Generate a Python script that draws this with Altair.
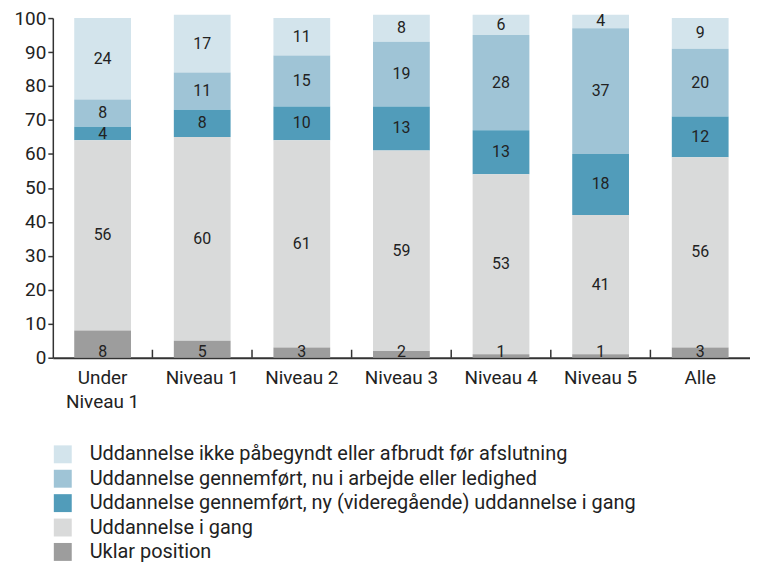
import altair as alt
import pandas as pd

categories = ["Under Niveau 1", "Niveau 1", "Niveau 2", "Niveau 3", "Niveau 4", "Niveau 5", "Alle"]
series = [
    "Uddannelse ikke påbegyndt eller afbrudt før afslutning",
    "Uddannelse gennemført, nu i arbejde eller ledighed",
    "Uddannelse gennemført, ny (videregående) uddannelse i gang",
    "Uddannelse i gang",
    "Uklar position",
]
ikke = [24, 17, 11, 8, 6, 4, 9]
nu = [8, 11, 15, 19, 28, 37, 20]
ny = [4, 8, 10, 13, 13, 18, 12]
igang = [56, 60, 61, 59, 53, 41, 56]
uklar = [8, 5, 3, 2, 1, 1, 3]
y_ticks = [0, 10, 20, 30, 40, 50, 60, 70, 80, 90, 100]
colors = ["#d3e4ec", "#9fc4d6", "#519cba", "#d9dada", "#9d9d9d"]

values_by_series = [ikke, nu, ny, igang, uklar]
rows = []
for s_i, (name, vals) in enumerate(zip(series, values_by_series)):
    for c, v in zip(categories, vals):
        rows.append({"category": c, "series": name, "value": v, "order": 4 - s_i})
df = pd.DataFrame(rows)
ticks_df = pd.DataFrame({"category": categories[1:]})

FONT = "Roboto"
H = 341
y_axis = alt.Axis(
    title=None, values=y_ticks, tickCount=11, grid=False, tickSize=5, labelOverlap=False,
    tickColor="#333333", domainColor="#333333", domainWidth=1.5, tickWidth=1.5,
    labelFontSize=19, labelColor="#222222", labelPadding=2, labelFont=FONT,
)
y_scale = alt.Scale(domain=[0, 100], nice=False)
x_axis = alt.Axis(
    title=None, labelAngle=0, ticks=False, domainColor="#333333", domainWidth=2,
    labelFontSize=19, labelColor="#222222", labelPadding=11, labelLineHeight=24,
    labelFont=FONT,
    labelExpr="datum.label == 'Under Niveau 1' ? ['Under', 'Niveau 1'] : datum.label",
)
x_scale = alt.Scale(paddingInner=0.43, paddingOuter=0.215)


def xe():
    return alt.X("category:N", sort=categories, scale=x_scale, axis=x_axis)


base = alt.Chart(df).transform_stack(
    stack="value", as_=["y0", "y1"], groupby=["category"], sort=[alt.SortField("order")]
).transform_calculate(
    mid="datum.series == 'Uklar position' ? 1.8 : (datum.y0 + datum.y1) / 2"
)

bars = base.mark_bar(opacity=1).encode(
    x=xe(),
    y=alt.Y("y0:Q", scale=y_scale, axis=y_axis),
    y2="y1:Q",
    color=alt.Color(
        "series:N",
        scale=alt.Scale(domain=series, range=colors),
        legend=alt.Legend(
            title=None, orient="none", legendX=0, legendY=428, direction="vertical",
            symbolType="square", symbolSize=324, symbolStrokeWidth=0, symbolOpacity=1,
            labelFontSize=20, labelFont=FONT, labelColor="#222222", labelOffset=17,
            rowPadding=4.5, labelLimit=1000, padding=0,
        ),
    ),
)

labels = base.mark_text(fontSize=16, color="#222222", font=FONT, baseline="middle").encode(
    x=xe(),
    y=alt.Y("mid:Q", scale=y_scale, axis=y_axis),
    text=alt.Text("value:Q"),
)

xticks = alt.Chart(ticks_df).mark_rule(xOffset=-50, color="#333333", strokeWidth=1.5).encode(
    x=xe(),
    y=alt.value(H - 8),
    y2=alt.value(H),
)

chart = alt.layer(bars, labels, xticks).properties(
    width=700,
    height=H,
    autosize=alt.AutoSizeParams(type="none"),
    padding={"left": 45, "top": 9, "right": 0, "bottom": 207},
).configure_view(stroke=None)

chart.save("out.html", embed_options={"renderer": "svg", "actions": False})
